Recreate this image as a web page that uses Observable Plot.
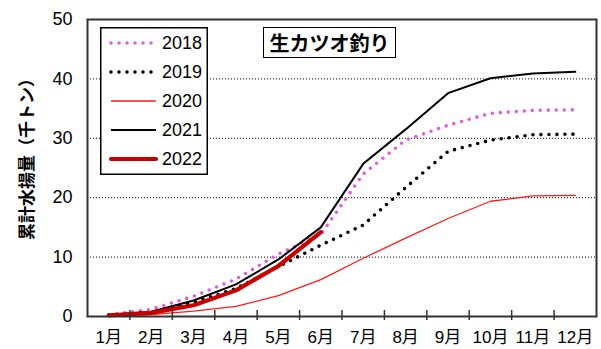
<!DOCTYPE html>
<html>
<head>
<meta charset="utf-8">
<script src="https://cdn.jsdelivr.net/npm/d3@7"></script>
<script src="https://cdn.jsdelivr.net/npm/@observablehq/plot@0.6"></script>
<style>
  body { margin: 0; background: #fff; }
  #chart { position: relative; width: 601px; height: 349px; font-family: "Liberation Sans", "Noto Sans CJK JP", sans-serif; }
  #chart > svg:first-child { position: absolute; left: 0; top: 0; }
  .title-box {
    position: absolute; left: 263px; top: 27px; width: 131px; height: 29px;
    border: 1.5px solid #000; background: #fff;
    font: bold 20px "Noto Sans CJK JP", sans-serif; line-height: 29px; text-align: center;
  }
  .legend { position: absolute; left: 100px; top: 27px; }
</style>
</head>
<body>
<div id="chart"></div>
<script>
// Cumulative landings of pole-and-line skipjack, thousand tonnes, by month
const months = [1, 2, 3, 4, 5, 6, 7, 8, 9, 10, 11, 12];
const series = ["2018", "2019", "2020", "2021", "2022"];
const v2018 = [0.3, 1.2, 3.4, 6.3, 10.5, 13.8, 24.0, 29.7, 32.2, 34.2, 34.7, 34.8];
const v2019 = [0.2, 0.7, 2.4, 4.7, 8.4, 12.0, 15.4, 21.7, 27.8, 29.7, 30.6, 30.7];
const v2020 = [0.1, 0.3, 0.9, 1.7, 3.5, 6.2, 9.8, 13.2, 16.5, 19.4, 20.3, 20.4];
const v2021 = [0.2, 0.8, 2.7, 5.4, 9.6, 15.0, 25.7, 31.5, 37.6, 40.1, 40.9, 41.2];
const v2022 = [0.2, 0.6, 1.9, 4.4, 8.5, 14.2];
const yTicks = [0, 10, 20, 30, 40, 50];
const gridValues = [10, 20, 30, 40];
const titleText = "生カツオ釣り";
const yLabel = "累計水揚量（千トン）";

const values = [v2018, v2019, v2020, v2021, v2022];
const styles = {
  "2018": {stroke: "#dd5fdd", strokeWidth: 3.6, strokeDasharray: "0,8", strokeLinecap: "round"},
  "2019": {stroke: "#000000", strokeWidth: 3.6, strokeDasharray: "0,8", strokeLinecap: "round"},
  "2020": {stroke: "#ff1a1a", strokeWidth: 1.3},
  "2021": {stroke: "#000000", strokeWidth: 2},
  "2022": {stroke: "#c80000", strokeWidth: 4.2, strokeLinecap: "round"}
};

const rows = series.flatMap((s, i) => values[i].map((v, j) => ({series: s, month: months[j], value: v})));
// tick marks sit on the boundaries between months; labels sit in the middle
const boundaries = months.slice(0, -1).map(m => m + 0.5);

const chart = Plot.plot({
  width: 601,
  height: 349,
  marginLeft: 87,
  marginRight: 5,
  marginTop: 19,
  marginBottom: 33,
  style: {fontFamily: "'Liberation Sans', 'Noto Sans CJK JP', sans-serif", color: "#000", background: "#fff", overflow: "visible"},
  x: {domain: [0.5, 12.5]},
  y: {domain: [0, 50]},
  marks: [
    Plot.ruleY(gridValues, {stroke: "#000", strokeWidth: 1, strokeDasharray: "1,2"}),
    ...series.map(s => Plot.line(rows.filter(d => d.series === s), {x: "month", y: "value", ...styles[s]})),
    Plot.frame({stroke: "#333", strokeWidth: 2}),
    Plot.axisY({ticks: yTicks, tickSize: 0, tickPadding: 15, fontSize: 18, label: null}),
    Plot.axisX({ticks: months, tickFormat: d => d + "月", tickSize: 0, tickPadding: 14, fontSize: 17, label: null}),
    Plot.axisX({ticks: boundaries, tickFormat: () => "", tickSize: 10, dy: -6, stroke: "#333", strokeWidth: 1.5, label: null})
  ]
});

// Rotated y-axis title, drawn into the chart's own SVG
d3.select(chart).append("text")
  .attr("transform", "translate(27,155) rotate(-90)")
  .attr("text-anchor", "middle")
  .attr("dy", "0.35em")
  .attr("font-family", "'Noto Sans CJK JP', sans-serif")
  .attr("font-weight", "bold")
  .attr("font-size", 17)
  .attr("fill", "#000")
  .text(yLabel);

const root = document.getElementById("chart");
root.appendChild(chart);

// Title box
const title = document.createElement("div");
title.className = "title-box";
title.textContent = titleText;
root.appendChild(title);

// Legend box
const lw = 108, lh = 148, rowStep = 29, firstRow = 16;
const legend = d3.create("svg")
  .attr("class", "legend")
  .attr("width", lw)
  .attr("height", lh);
legend.append("rect")
  .attr("x", 0.75).attr("y", 0.75)
  .attr("width", lw - 1.5).attr("height", lh - 1.5)
  .attr("fill", "#fff").attr("stroke", "#000").attr("stroke-width", 1.5);
series.forEach((s, i) => {
  const st = styles[s];
  const y = firstRow + i * rowStep;
  legend.append("line")
    .attr("x1", 11).attr("x2", 56).attr("y1", y).attr("y2", y)
    .attr("stroke", st.stroke)
    .attr("stroke-width", st.strokeWidth)
    .attr("stroke-dasharray", st.strokeDasharray || null)
    .attr("stroke-linecap", st.strokeLinecap || null);
  legend.append("text")
    .attr("x", 62).attr("y", y)
    .attr("dy", "0.35em")
    .attr("font-family", "'Liberation Sans', sans-serif")
    .attr("font-size", 18)
    .text(s);
});
root.appendChild(legend.node());
</script>
</body>
</html>
